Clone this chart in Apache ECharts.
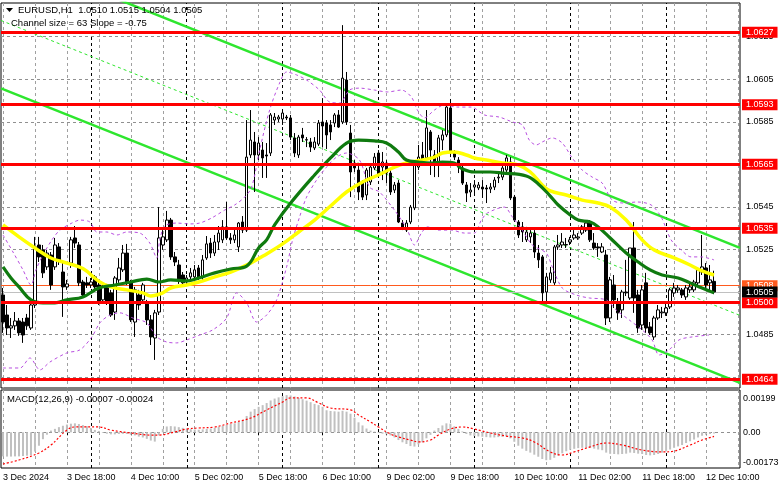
<!DOCTYPE html>
<html><head><meta charset="utf-8">
<script src="https://cdn.jsdelivr.net/npm/echarts/dist/echarts.min.js"></script>
<style>html,body{margin:0;padding:0;background:#fff}#c{width:781px;height:489px}</style>
</head><body><div id="c"></div>
<script>
const symbolName = 'EURUSD,H1';
const channelText = 'Channel size = 63 Slope = -0.75';
const timeLabels = ['3 Dec 2024','3 Dec 18:00','4 Dec 10:00','5 Dec 02:00','5 Dec 18:00','6 Dec 10:00','9 Dec 02:00','9 Dec 18:00','10 Dec 10:00','11 Dec 02:00','11 Dec 18:00','12 Dec 10:00'];
const labelStep = 16;
const slotCount = 185;

const opens = [1.05036,1.04942,1.04881,1.04891,1.04914,1.04909,1.04928,1.04881,1.04989,1.05271,
1.05248,1.05168,1.05224,1.05168,1.05262,1.05144,1.05074,1.05186,1.05304,1.05271,
1.05097,1.05093,1.05083,1.05121,1.05083,1.05013,1.05074,1.05046,1.04956,1.05107,
1.05154,1.05233,1.05093,1.04909,1.05036,1.05013,1.04999,1.04919,1.04834,1.04956,
1.05271,1.05295,1.05388,1.05215,1.05177,1.05130,1.05097,1.05121,1.05121,1.05163,
1.05121,1.05210,1.05280,1.05233,1.05285,1.05295,1.05356,1.05304,1.05295,1.05262,
1.05379,1.05341,1.05694,1.05755,1.05694,1.05717,1.05694,1.05703,1.05858,1.05863,
1.05863,1.05872,1.05868,1.05774,1.05694,1.05788,1.05764,1.05755,1.05727,1.05745,
1.05849,1.05844,1.05835,1.05844,1.05882,1.05849,1.06046,1.05797,1.05656,1.05623,
1.05562,1.05506,1.05567,1.05633,1.05703,1.05637,1.05656,1.05609,1.05529,1.05562,
1.05374,1.05341,1.05379,1.05445,1.05637,1.05694,1.05680,1.05802,1.05694,1.05656,
1.05764,1.05788,1.05915,1.05703,1.05670,1.05633,1.05553,1.05520,1.05543,1.05539,
1.05543,1.05539,1.05534,1.05543,1.05586,1.05590,1.05623,1.05661,1.05496,1.05379,
1.05356,1.05295,1.05309,1.05327,1.05233,1.05215,1.05050,1.05107,1.05093,1.05262,
1.05271,1.05271,1.05285,1.05304,1.05304,1.05327,1.05341,1.05379,1.05280,1.05262,
1.05238,1.05224,1.04928,1.05083,1.05003,1.04966,1.05050,1.05022,1.05257,1.05036,
1.04895,1.05093,1.04886,1.04839,1.04928,1.04952,1.04952,1.04980,1.05046,1.05060,
1.05060,1.05027,1.05060,1.05060,1.05093,1.05144,1.05163,1.05093,1.05100];
const closes = [1.04909,1.04881,1.04891,1.04914,1.04858,1.04848,1.04891,1.04989,1.05262,1.05215,
1.05140,1.05233,1.05083,1.05271,1.05201,1.05074,1.05088,1.05295,1.05280,1.05093,
1.05036,1.05083,1.05097,1.05074,1.05003,1.05074,1.05003,1.04942,1.05116,1.05163,
1.05233,1.05093,1.04919,1.05060,1.04989,1.05083,1.04919,1.04839,1.04952,1.05304,
1.05309,1.05388,1.05215,1.05191,1.05107,1.05093,1.05116,1.05140,1.05154,1.05121,
1.05201,1.05276,1.05233,1.05285,1.05327,1.05356,1.05304,1.05295,1.05318,1.05374,
1.05341,1.05684,1.05764,1.05694,1.05750,1.05680,1.05689,1.05882,1.05872,1.05872,
1.05891,1.05868,1.05778,1.05703,1.05778,1.05774,1.05766,1.05731,1.05755,1.05844,
1.05830,1.05788,1.05802,1.05882,1.05825,1.06055,1.05849,1.05614,1.05633,1.05520,
1.05496,1.05623,1.05637,1.05684,1.05600,1.05661,1.05609,1.05520,1.05553,1.05379,
1.05351,1.05374,1.05449,1.05656,1.05684,1.05670,1.05821,1.05717,1.05656,1.05774,
1.05788,1.05919,1.05708,1.05684,1.05637,1.05562,1.05515,1.05529,1.05553,1.05553,
1.05534,1.05534,1.05543,1.05576,1.05590,1.05633,1.05680,1.05492,1.05388,1.05318,
1.05332,1.05332,1.05327,1.05238,1.05201,1.05046,1.05121,1.05140,1.05262,1.05271,
1.05285,1.05273,1.05295,1.05318,1.05309,1.05356,1.05374,1.05295,1.05257,1.05257,
1.05262,1.04928,1.05107,1.05013,1.04952,1.05050,1.05046,1.05257,1.05022,1.04881,
1.05060,1.04881,1.04858,1.04928,1.04966,1.04956,1.04975,1.05060,1.05069,1.05069,
1.05036,1.05069,1.05074,1.05097,1.05154,1.05168,1.05083,1.05107,1.05050];
const highs = [1.05069,1.04989,1.04928,1.04956,1.04928,1.04928,1.04947,1.05013,1.05309,1.05309,
1.05271,1.05248,1.05238,1.05304,1.05280,1.05191,1.05107,1.05309,1.05360,1.05285,
1.05107,1.05121,1.05116,1.05130,1.05093,1.05083,1.05088,1.05060,1.05125,1.05210,
1.05271,1.05276,1.05107,1.05074,1.05060,1.05093,1.05013,1.04942,1.04966,1.05449,
1.05341,1.05431,1.05398,1.05238,1.05201,1.05144,1.05130,1.05163,1.05177,1.05177,
1.05224,1.05313,1.05304,1.05318,1.05360,1.05388,1.05473,1.05327,1.05351,1.05379,
1.05407,1.05858,1.05905,1.05802,1.05778,1.05755,1.05750,1.05891,1.05891,1.05882,
1.05896,1.05882,1.05882,1.05797,1.05788,1.05821,1.05778,1.05774,1.05778,1.05858,
1.05961,1.05858,1.05858,1.05891,1.05905,1.06304,1.06084,1.05835,1.05670,1.05642,
1.05576,1.05633,1.05656,1.05703,1.05717,1.05708,1.05670,1.05623,1.05567,1.05576,
1.05388,1.05388,1.05459,1.05670,1.05741,1.05755,1.05905,1.05811,1.05717,1.05788,
1.05811,1.05938,1.05957,1.05717,1.05684,1.05647,1.05567,1.05562,1.05576,1.05567,
1.05576,1.05553,1.05562,1.05590,1.05609,1.05647,1.05694,1.05684,1.05506,1.05388,
1.05379,1.05356,1.05341,1.05341,1.05271,1.05224,1.05140,1.05168,1.05271,1.05318,
1.05327,1.05304,1.05309,1.05341,1.05327,1.05365,1.05388,1.05388,1.05327,1.05280,
1.05280,1.05248,1.05121,1.05130,1.05022,1.05060,1.05201,1.05257,1.05379,1.05060,
1.05083,1.05140,1.04909,1.04938,1.04989,1.04980,1.04999,1.05069,1.05093,1.05083,
1.05069,1.05083,1.05097,1.05107,1.05154,1.05318,1.05186,1.05177,1.05150];
const lows = [1.04858,1.04848,1.04834,1.04872,1.04844,1.04811,1.04872,1.04872,1.04975,1.05191,
1.05116,1.05154,1.05060,1.05154,1.05177,1.04933,1.05060,1.05163,1.05257,1.05078,
1.05022,1.05069,1.05069,1.05060,1.04989,1.04999,1.04989,1.04933,1.04919,1.05093,
1.05144,1.05083,1.04909,1.04839,1.04966,1.04999,1.04895,1.04801,1.04731,1.04942,
1.05248,1.05285,1.05201,1.05172,1.05088,1.05074,1.05083,1.05107,1.05107,1.05107,
1.05107,1.05201,1.05210,1.05219,1.05248,1.05280,1.05295,1.05276,1.05280,1.05238,
1.05327,1.05332,1.05680,1.05520,1.05670,1.05586,1.05586,1.05689,1.05835,1.05849,
1.05835,1.05858,1.05764,1.05684,1.05680,1.05755,1.05731,1.05708,1.05717,1.05736,
1.05731,1.05722,1.05764,1.05825,1.05821,1.05839,1.05835,1.05496,1.05614,1.05482,
1.05482,1.05482,1.05553,1.05623,1.05586,1.05576,1.05562,1.05506,1.05515,1.05374,
1.05341,1.05332,1.05369,1.05435,1.05623,1.05647,1.05670,1.05600,1.05590,1.05590,
1.05717,1.05778,1.05684,1.05670,1.05609,1.05553,1.05473,1.05496,1.05515,1.05529,
1.05492,1.05468,1.05515,1.05529,1.05562,1.05576,1.05614,1.05482,1.05379,1.05304,
1.05285,1.05285,1.05280,1.05210,1.05163,1.04999,1.05003,1.05093,1.05083,1.05248,
1.05257,1.05257,1.05271,1.05295,1.05295,1.05318,1.05332,1.05285,1.05248,1.05215,
1.05233,1.04895,1.04909,1.04975,1.04919,1.04928,1.05031,1.05013,1.04952,1.04858,
1.04872,1.04858,1.04848,1.04825,1.04919,1.04928,1.04938,1.04970,1.05027,1.05046,
1.05022,1.05013,1.05046,1.05050,1.05083,1.05130,1.05069,1.05060,1.05040];

const maYellow = [[0,1.05365],[4,1.05309],[8,1.05257],[12,1.05210],[16,1.05186],[20,1.05160],[24,1.05100],[27,1.05074],[31,1.05060],[35,1.05046],[37,1.05031],[40,1.05046],[42,1.05069],[46,1.05083],[49,1.05097],[53,1.05121],[57,1.05144],[62,1.05186],[66,1.05229],[70,1.05276],[74,1.05332],[78,1.05388],[82,1.05454],[86,1.05520],[90,1.05567],[94,1.05600],[98,1.05637],[101,1.05656],[105,1.05670],[108,1.05684],[110,1.05703],[113,1.05708],[116,1.05694],[118,1.05680],[121,1.05670],[125,1.05656],[129,1.05647],[132,1.05614],[135,1.05553],[137,1.05525],[141,1.05506],[145,1.05482],[149,1.05468],[152,1.05449],[156,1.05388],[160,1.05295],[163,1.05248],[168,1.05210],[172,1.05177],[175,1.05149],[178,1.05130]];
const maGreen = [[0,1.05168],[2,1.05116],[4,1.05074],[7,1.05013],[10,1.04999],[13,1.04999],[16,1.05013],[20,1.05027],[24,1.05069],[28,1.05083],[32,1.05097],[36,1.05111],[39,1.05097],[42,1.05107],[46,1.05102],[49,1.05116],[53,1.05140],[57,1.05158],[61,1.05172],[64,1.05257],[66,1.05295],[68,1.05365],[72,1.05468],[78,1.05600],[82,1.05680],[86,1.05750],[89,1.05764],[93,1.05760],[96,1.05750],[99,1.05708],[101,1.05670],[104,1.05661],[107,1.05656],[110,1.05661],[113,1.05656],[115,1.05628],[118,1.05614],[122,1.05614],[125,1.05609],[131,1.05595],[134,1.05558],[137,1.05501],[139,1.05459],[142,1.05412],[144,1.05388],[147,1.05379],[149,1.05356],[152,1.05304],[156,1.05233],[159,1.05191],[162,1.05154],[165,1.05130],[169,1.05116],[172,1.05093],[175,1.05069],[178,1.05046]];
const bandUpper = [[0,1.05318],[2.5,1.05238],[5,1.05154],[7,1.05083],[8.25,1.05154],[10,1.05224],[12.25,1.05295],[14.25,1.05341],[17.25,1.05374],[19.25,1.05388],[21.75,1.05379],[23.5,1.05332],[26,1.05332],[28.5,1.05318],[31,1.05332],[34.25,1.05327],[36.75,1.05280],[38.5,1.05210],[39.25,1.05295],[40.5,1.05360],[43.5,1.05374],[46.75,1.05370],[49.25,1.05374],[52.25,1.05398],[55.5,1.05435],[58,1.05459],[60.5,1.05496],[62.25,1.05543],[64.25,1.05717],[66.75,1.05905],[69.25,1.06032],[71,1.06084],[73.5,1.06070],[76,1.06046],[79.25,1.05999],[81.75,1.05943],[84.25,1.05938],[86.75,1.05999],[89.25,1.06008],[93,1.05999],[96.25,1.05990],[99.75,1.05999],[102.25,1.05966],[103.75,1.05905],[105.5,1.05868],[108,1.05905],[110.5,1.05929],[113.75,1.05919],[117.25,1.05919],[120.5,1.05882],[124.25,1.05872],[127.5,1.05849],[130,1.05835],[131.75,1.05764],[133.5,1.05741],[135,1.05755],[137.5,1.05774],[140,1.05750],[142.5,1.05680],[145,1.05623],[147.5,1.05590],[150,1.05562],[152.5,1.05482],[155.5,1.05468],[158.75,1.05473],[162.25,1.05459],[164.75,1.05403],[167.25,1.05295],[169.75,1.05248],[172.25,1.05215],[174.75,1.05215],[178,1.05201]];
const bandLower = [[0,1.04693],[4.25,1.04693],[6.75,1.04740],[9.25,1.04684],[11.75,1.04721],[16,1.04764],[19.25,1.04778],[22.25,1.04839],[24.25,1.04905],[26.75,1.04942],[29.25,1.04952],[32.5,1.04928],[36,1.04905],[38.5,1.04839],[41,1.04815],[43.5,1.04811],[46,1.04825],[49.25,1.04848],[52.5,1.04872],[56,1.04928],[58.5,1.05046],[61,1.04999],[63.5,1.04909],[66,1.04942],[68.5,1.05013],[71,1.05168],[72.5,1.05295],[74.25,1.05403],[76,1.05496],[78.5,1.05576],[81,1.05637],[83.5,1.05684],[86,1.05703],[89.25,1.05670],[91.75,1.05543],[94.25,1.05520],[98,1.05435],[99.75,1.05388],[101.25,1.05341],[103,1.05271],[104.75,1.05327],[106.25,1.05356],[108.75,1.05341],[112.25,1.05341],[115.5,1.05327],[118,1.05327],[119.75,1.05388],[121.25,1.05421],[125.5,1.05449],[127.5,1.05403],[130,1.05341],[132.5,1.05271],[136,1.05233],[137.5,1.05168],[140,1.05069],[143.5,1.05036],[146.75,1.05022],[151,1.05013],[153.5,1.04966],[156.75,1.04919],[160,1.04872],[162.5,1.04825],[164.25,1.04754],[166.75,1.04778],[169.25,1.04825],[172.5,1.04839],[176.75,1.04848]];
const channelUpper = [[-0.5,1.06645],[184.5,1.05257]];
const channelMiddle = [[-0.5,1.06326],[184.5,1.04940]];
const channelLower = [[-0.5,1.06007],[184.5,1.04623]];
const levelLines = [1.0627,1.0593,1.0565,1.0535,1.0500,1.0464];
const askLevel = 1.0508;
const priceGrid = [1.0465,1.0485,1.0505,1.0525,1.0545,1.0565,1.0585,1.0605,1.0625];
const daySeparators = [22,46,70,94,118,142,166];
const gridStep = 8;

const macdHist = [-0.00140,-0.00141,-0.00141,-0.00140,-0.00140,-0.00138,-0.00136,-0.00133,-0.00112,-0.00078,
-0.00040,-0.00014,0.00010,0.00020,0.00030,0.00038,0.00045,0.00050,0.00052,0.00048,
0.00042,0.00036,0.00025,0.00014,0.00008,-0.00004,-0.00008,-0.00012,-0.00012,-0.00010,
-0.00009,-0.00010,-0.00014,-0.00018,-0.00025,-0.00030,-0.00038,-0.00048,-0.00054,-0.00018,
0.00020,0.00034,0.00036,0.00034,0.00030,0.00026,0.00022,0.00018,0.00016,0.00015,
0.00017,0.00020,0.00022,0.00026,0.00032,0.00038,0.00044,0.00048,0.00052,0.00060,
0.00070,0.00095,0.00120,0.00135,0.00148,0.00158,0.00170,0.00185,0.00196,0.00203,
0.00210,0.00216,0.00214,0.00208,0.00200,0.00192,0.00184,0.00175,0.00165,0.00158,
0.00148,0.00128,0.00124,0.00122,0.00120,0.00125,0.00120,0.00108,0.00085,0.00058,
0.00040,0.00022,0.00010,0.00004,-0.00004,-0.00008,-0.00012,-0.00018,-0.00030,-0.00045,
-0.00058,-0.00068,-0.00080,-0.00083,-0.00070,-0.00058,-0.00035,-0.00015,0.00010,0.00025,
0.00040,0.00052,0.00050,0.00035,0.00020,0.00005,-0.00010,-0.00018,-0.00022,-0.00024,
-0.00026,-0.00028,-0.00030,-0.00030,-0.00028,-0.00026,-0.00024,-0.00035,-0.00055,-0.00078,
-0.00095,-0.00108,-0.00118,-0.00130,-0.00142,-0.00155,-0.00162,-0.00160,-0.00148,-0.00135,
-0.00122,-0.00110,-0.00102,-0.00096,-0.00092,-0.00090,-0.00088,-0.00090,-0.00095,-0.00100,
-0.00104,-0.00118,-0.00125,-0.00126,-0.00128,-0.00126,-0.00124,-0.00118,-0.00120,-0.00124,
-0.00126,-0.00132,-0.00134,-0.00132,-0.00126,-0.00118,-0.00110,-0.00100,-0.00090,-0.00082,
-0.00074,-0.00062,-0.00052,-0.00042,-0.00030,-0.00020,-0.00014,-0.00010,-0.00007];
const macdSignal = [[0,-0.00184],[4,-0.00161],[9,-0.00120],[12,-0.00074],[16,0.00013],[18,0.00031],[24,0.00031],[27,0.00013],[32,-0.00004],[37,-0.00016],[39,-0.00016],[43,0.00002],[46,0.00019],[49,0.00025],[53,0.00031],[57,0.00054],[62,0.00083],[66,0.00130],[70,0.00176],[72,0.00200],[76,0.00200],[79,0.00171],[82,0.00141],[87,0.00130],[89,0.00101],[92,0.00060],[94,0.00031],[97,-0.00010],[99,-0.00027],[102,-0.00045],[104,-0.00056],[107,-0.00045],[109,-0.00016],[112,0.00019],[115,0.00031],[118,0.00019],[122,-0.00004],[126,-0.00022],[130,-0.00033],[133,-0.00056],[137,-0.00114],[140,-0.00132],[143,-0.00114],[147,-0.00085],[151,-0.00062],[155,-0.00074],[160,-0.00103],[165,-0.00114],[168,-0.00109],[172,-0.00074],[175,-0.00045],[178,-0.00024]];
const macdTicks = [0.00199, 0, -0.00173];

const FONT = '"Liberation Sans", Arial, sans-serif';
const CLEAR = 'rgba(0,0,0,0)';
const GRIDC = '#a0a0a0';
const last = opens.length - 1;
const slots = Array.from({length: slotCount}, (_, i) => String(i));
const isGridSlot = i => i % gridStep === 0 && daySeparators.indexOf(i) < 0;
const candleData = opens.map((o, i) => [o, closes[i], lows[i], highs[i]]);
const bidLevel = closes[last];
const headerText = symbolName + '  ' + [opens[last], highs[last], lows[last], closes[last]].map(v => v.toFixed(4)).join(' ');
const macdText = 'MACD(12,26,9) ' + macdHist[last].toFixed(5) + ' ' + macdSignal[macdSignal.length - 1][1].toFixed(5);
const gridSplit = {show: true, alignWithLabel: true, interval: isGridSlot, lineStyle: {color: GRIDC, type: [3, 3], width: 1}};

function vLines(xi, yi, values, color, z) {
  return {type: 'line', xAxisIndex: xi, yAxisIndex: yi, data: [], silent: true,
    markLine: {silent: true, animation: false, precision: 6, z: z, symbol: ['none', 'none'], label: {show: false},
      lineStyle: {color: color, type: [3, 3], width: 1, opacity: 1}, emphasis: {disabled: true},
      data: values.map(v => ({xAxis: v}))}};
}
function boxLabel(bg, fg) {
  return {show: true, position: 'end', distance: 2, formatter: p => Number(p.value).toFixed(4),
    color: fg, backgroundColor: bg, fontFamily: FONT, fontSize: 9, lineHeight: 9, padding: [1, 4, 1, 4]};
}

const chart = echarts.init(document.getElementById('c'), null, {renderer: 'canvas'});
chart.setOption({
  animation: false,
  backgroundColor: '#ffffff',
  grid: [
    {left: 1, top: 3, width: 739, height: 385, show: true, borderColor: '#000', borderWidth: 1},
    {left: 1, top: 390, width: 739, height: 78, show: true, borderColor: '#000', borderWidth: 1}
  ],
  xAxis: [
    {type: 'category', gridIndex: 0, data: slots, boundaryGap: true,
      axisLine: {show: false}, axisTick: {show: false}, axisLabel: {show: false}, splitLine: gridSplit},
    {type: 'value', gridIndex: 0, min: -0.5, max: slotCount - 0.5, show: false},
    {type: 'category', gridIndex: 1, data: slots, boundaryGap: true,
      axisLine: {show: false}, splitLine: gridSplit,
      axisTick: {show: true, alignWithLabel: true, length: 3, interval: i => i % labelStep === 0 && i / labelStep < timeLabels.length, lineStyle: {color: '#000'}},
      axisLabel: {show: true, interval: i => i % labelStep === 0 && i / labelStep < timeLabels.length, hideOverlap: false,
        formatter: (v, i) => timeLabels[i / labelStep] || '', align: 'left', margin: 5, color: '#000', fontFamily: FONT, fontSize: 9}},
    {type: 'value', gridIndex: 1, min: -0.5, max: slotCount - 0.5, show: false}
  ],
  yAxis: [
    {type: 'value', gridIndex: 0, min: 1.04599, max: 1.06408, show: false},
    {type: 'value', gridIndex: 1, min: -0.002074, max: 0.002458, show: false}
  ],
  graphic: [
    {type: 'polygon', shape: {points: [[6, 8], [13, 8], [9.5, 12]]}, style: {fill: '#000'}, z: 100},
    {type: 'text', left: 18, top: 5, style: {text: headerText, fill: '#000', font: '9.5px ' + FONT}, z: 100},
    {type: 'text', left: 11, top: 18, style: {text: channelText, fill: '#000', font: '9.5px ' + FONT}, z: 100},
    {type: 'text', left: 7, top: 394, style: {text: macdText, fill: '#000', font: '9.5px ' + FONT}, z: 100}
  ],
  series: [
    vLines(1, 0, daySeparators, '#000000', 2),
    vLines(3, 1, daySeparators, '#000000', 2),
    {type: 'line', xAxisIndex: 1, yAxisIndex: 0, data: [], silent: true,
      markLine: {silent: true, animation: false, precision: 6, z: 2, symbol: ['none', 'none'],
        lineStyle: {color: '#909090', type: [3, 3], width: 1},
        label: {show: true, position: 'end', distance: 6, formatter: p => Number(p.value).toFixed(4), color: '#000', fontFamily: FONT, fontSize: 9},
        data: priceGrid.map(v => ({yAxis: v}))}},
    {type: 'line', xAxisIndex: 3, yAxisIndex: 1, data: [], silent: true,
      markLine: {silent: true, animation: false, precision: 8, z: 2, symbol: ['none', 'none'],
        label: {show: true, position: 'end', distance: 3, color: '#000', fontFamily: FONT, fontSize: 9,
          formatter: p => Number(p.value) === 0 ? '0.00' : Number(p.value).toFixed(5)},
        data: macdTicks.map(v => ({yAxis: v, lineStyle: v === 0 ? {color: '#909090', type: [3, 3], width: 1} : {color: CLEAR, width: 1}}))}},
    {type: 'line', xAxisIndex: 1, yAxisIndex: 0, data: channelLower, symbol: 'none', silent: true, z: 2, lineStyle: {color: '#2ee62e', width: 2.5}},
    {type: 'line', xAxisIndex: 1, yAxisIndex: 0, data: channelUpper, symbol: 'none', silent: true, z: 2, lineStyle: {color: '#2ee62e', width: 2.5}},
    {type: 'line', xAxisIndex: 1, yAxisIndex: 0, data: channelMiddle, symbol: 'none', silent: true, z: 2, lineStyle: {color: '#2ee62e', width: 1, type: [3, 3]}},
    {type: 'line', xAxisIndex: 1, yAxisIndex: 0, data: [], silent: true,
      markLine: {silent: true, animation: false, precision: 6, z: 3, symbol: ['none', 'none'],
        data: [{yAxis: askLevel, lineStyle: {color: '#ff5a1e', width: 1, type: 'solid'}, label: boxLabel('#ff5a1e', '#ffffff')},
               {yAxis: bidLevel, lineStyle: {color: '#c0c0c0', width: 1, type: 'solid'}, label: {show: false}}]}},
    {type: 'candlestick', xAxisIndex: 0, yAxisIndex: 0, data: candleData, barWidth: 3, silent: true, z: 3,
      itemStyle: {color: '#ffffff', color0: '#000000', borderColor: '#000000', borderColor0: '#000000', borderWidth: 1}},
    {type: 'line', xAxisIndex: 1, yAxisIndex: 0, data: bandUpper, smooth: 0.3, symbol: 'none', silent: true, z: 4, lineStyle: {color: '#b84ee0', width: 1, type: [3, 3]}},
    {type: 'line', xAxisIndex: 1, yAxisIndex: 0, data: bandLower, smooth: 0.3, symbol: 'none', silent: true, z: 4, lineStyle: {color: '#b84ee0', width: 1, type: [3, 3]}},
    {type: 'line', xAxisIndex: 1, yAxisIndex: 0, data: maYellow, smooth: 0.4, symbol: 'none', silent: true, z: 4, lineStyle: {color: '#ffff00', width: 3.5}},
    {type: 'line', xAxisIndex: 1, yAxisIndex: 0, data: maGreen, smooth: 0.4, symbol: 'none', silent: true, z: 4, lineStyle: {color: '#0f7a0f', width: 3.2}},
    {type: 'line', xAxisIndex: 1, yAxisIndex: 0, data: [], silent: true,
      markLine: {silent: true, animation: false, precision: 6, z: 6, symbol: ['none', 'none'],
        lineStyle: {color: '#ff0000', width: 3, type: 'solid'}, label: boxLabel('#ff0000', '#ffffff'),
        data: levelLines.map(v => ({yAxis: v}))}},
    {type: 'line', xAxisIndex: 1, yAxisIndex: 0, data: [], silent: true,
      markLine: {silent: true, animation: false, precision: 6, z: 7, symbol: ['none', 'none'],
        data: [{yAxis: bidLevel, lineStyle: {color: CLEAR, width: 1}, label: boxLabel('#000000', '#ffffff')}]}},
    {type: 'bar', xAxisIndex: 2, yAxisIndex: 1, data: macdHist, barWidth: 2, silent: true, z: 3, itemStyle: {color: '#c0c0c0'}},
    {type: 'line', xAxisIndex: 3, yAxisIndex: 1, data: macdSignal, smooth: 0.4, symbol: 'none', silent: true, z: 4, lineStyle: {color: '#ff0000', width: 1.2, type: [2, 2]}}
  ]
});
</script></body></html>
